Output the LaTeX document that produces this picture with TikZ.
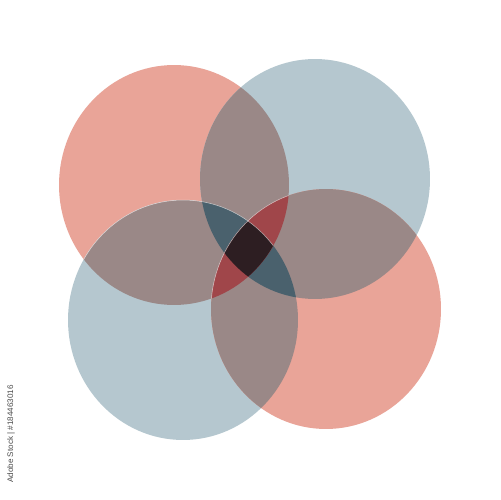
\documentclass[tikz,border=0pt]{standalone}
\usepackage{fontspec}
\setsansfont{Liberation Sans}
\definecolor{rosec}{HTML}{E9A498}
\definecolor{greyblue}{HTML}{B5C7CF}
\definecolor{mauve}{HTML}{9A8887}
\definecolor{slate}{HTML}{4A616D}
\definecolor{wine}{HTML}{A0464A}
\definecolor{core}{HTML}{2D1E22}
\begin{document}
\begin{tikzpicture}[x=0.02cm, y=-0.02cm,
    lobe/.style={x radius=2.3cm, y radius=2.4cm},
    rim/.style={draw=white, draw opacity=0.6, line width=0.3pt}]
    \fill[white] (0,0) rectangle (500,500);
    \useasboundingbox (0,0) rectangle (500,500);

    \coordinate (tl) at (174,185);
    \coordinate (tr) at (315,179);
    \coordinate (bl) at (183,320);
    \coordinate (br) at (326,309);

    \fill[rosec] (tl) ellipse[lobe];
    \fill[greyblue] (tr) ellipse[lobe];
    \fill[greyblue] (bl) ellipse[lobe];
    \fill[rosec] (br) ellipse[lobe];

    % two lobes
    \foreach \p/\q in {tl/tr, tl/bl, br/tr, br/bl} {
        \begin{scope}
            \clip (\p) ellipse[lobe];
            \fill[mauve] (\q) ellipse[lobe];
        \end{scope}
    }

    % three lobes
    \foreach \p/\q/\r/\c in {tl/tr/bl/slate, br/tr/bl/slate, tl/br/tr/wine, tl/br/bl/wine} {
        \begin{scope}
            \clip (\p) ellipse[lobe];
            \clip (\q) ellipse[lobe];
            \fill[\c] (\r) ellipse[lobe];
        \end{scope}
    }

    % all four
    \begin{scope}
        \clip (tl) ellipse[lobe];
        \clip (tr) ellipse[lobe];
        \clip (bl) ellipse[lobe];
        \fill[core] (br) ellipse[lobe];
    \end{scope}

    \begin{scope}
        \clip (tl) ellipse[lobe];
        \draw[rim] (bl) ellipse[lobe];
        \draw[rim] (br) ellipse[lobe];
    \end{scope}

    \node[rotate=90, text=black!70, font=\sffamily\fontsize{4.6}{5}\selectfont, inner sep=0pt]
        (stock) at (11,434) {Adobe Stock | \#184463016};
\end{tikzpicture}
\end{document}
